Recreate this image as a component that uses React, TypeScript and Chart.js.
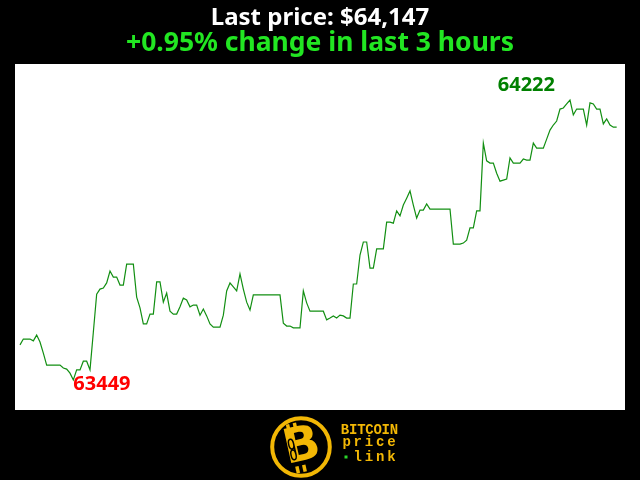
import React, { useEffect, useRef } from "react";
import { Chart, registerables } from "chart.js";

Chart.register(...registerables);

const TITLE = "Last price: $64,147";
const SUBTITLE = "+0.95% change in last 3 hours";
const LOGO_LINES = ["BITCOIN", "price", "link"];

// BTC price, one sample per minute over the last 3 hours
const prices: number[] = [
  63546, 63562, 63562, 63562, 63557, 63573, 63554, 63523, 63490, 63490,
  63490, 63490, 63490, 63482, 63479, 63468, 63449, 63477, 63477, 63501,
  63501, 63477, 63581, 63686, 63700, 63703, 63717, 63750, 63733, 63733,
  63711, 63711, 63769, 63769, 63769, 63678, 63648, 63604, 63604, 63631,
  63631, 63720, 63720, 63664, 63689, 63639, 63631, 63631, 63651, 63675,
  63670, 63651, 63656, 63656, 63628, 63645, 63626, 63604, 63595, 63595,
  63595, 63628, 63695, 63717, 63706, 63695, 63742, 63700, 63664, 63642,
  63684, 63684, 63684, 63684, 63684, 63684, 63684, 63684, 63684, 63606,
  63598, 63598, 63593, 63593, 63593, 63695, 63662, 63639, 63639, 63639,
  63639, 63639, 63615, 63620, 63626, 63620, 63628, 63626, 63620, 63620,
  63714, 63714, 63794, 63830, 63830, 63758, 63758, 63811, 63811, 63811,
  63885, 63885, 63882, 63916, 63902, 63932, 63951, 63971, 63932, 63896,
  63918, 63918, 63935, 63921, 63921, 63921, 63921, 63921, 63921, 63921,
  63824, 63824, 63824, 63827, 63835, 63869, 63869, 63916, 63916, 64103,
  64054, 64048, 64048, 64020, 63998, 64001, 64004, 64062, 64048, 64048,
  64048, 64059, 64056, 64056, 64103, 64089, 64089, 64089, 64114, 64139,
  64153, 64164, 64197, 64200, 64211, 64222, 64181, 64197, 64197, 64197,
  64153, 64214, 64211, 64197, 64197, 64156, 64170, 64153, 64147, 64147,
];

const minutes: number[] = prices.map((_, i) => i);

export default function App() {
  const ref = useRef<HTMLCanvasElement>(null);

  useEffect(() => {
    const canvas = ref.current;
    if (!canvas) return;
    const minVal = Math.min(...prices);
    const maxVal = Math.max(...prices);
    const minIdx = prices.indexOf(minVal);
    const maxIdx = prices.indexOf(maxVal);

    const decor = {
      id: "decor",
      beforeDraw(chart: any) {
        const { ctx, chartArea: a } = chart;
        ctx.save();
        ctx.fillStyle = "#000";
        ctx.fillRect(0, 0, chart.width, chart.height);
        ctx.fillStyle = "#fff";
        ctx.fillRect(a.left, a.top, a.right - a.left, a.bottom - a.top);
        ctx.restore();
      },
      afterDraw(chart: any) {
        const { ctx } = chart;
        const xs = chart.scales.x;
        const ys = chart.scales.y;
        ctx.save();
        // titles
        ctx.textAlign = "center";
        ctx.textBaseline = "alphabetic";
        ctx.fillStyle = "#ffffff";
        ctx.font = "bold 24px 'Noto Sans'";
        ctx.fillText(TITLE, 320, 25);
        ctx.fillStyle = "#22e622";
        ctx.font = "bold 26.5px 'Noto Sans'";
        ctx.fillText(SUBTITLE, 320, 50.5);

        // min / max labels
        ctx.font = "bold 20px 'Noto Sans'";
        ctx.fillStyle = "#ff0000";
        ctx.textAlign = "left";
        ctx.fillText(String(minVal), xs.getPixelForValue(minIdx), ys.getPixelForValue(minVal) + 10);
        ctx.fillStyle = "#008000";
        ctx.textAlign = "right";
        ctx.fillText(String(maxVal), xs.getPixelForValue(maxIdx) - 15, ys.getPixelForValue(maxVal) - 9);

        // logo
        const gold = "#f2b705";
        ctx.strokeStyle = gold;
        ctx.lineWidth = 4;
        ctx.beginPath();
        ctx.arc(301, 447, 28.8, 0, Math.PI * 2);
        ctx.stroke();
        ctx.save();
        ctx.translate(301, 447);
        ctx.rotate(-0.22);
        ctx.fillStyle = gold;
        ctx.fillRect(-10, -25, 3.5, 7);
        ctx.fillRect(-3, -25, 3.5, 7);
        ctx.fillRect(-10, 18, 3.5, 7);
        ctx.fillRect(-3, 18, 3.5, 7);
        ctx.font = "bold 48px 'DejaVu Sans'";
        ctx.textAlign = "center";
        ctx.textBaseline = "middle";
        ctx.fillText("B", 1, 1);
        ctx.strokeStyle = "#000";
        ctx.lineWidth = 1.5;
        ctx.beginPath();
        ctx.ellipse(-9, -5, 2.5, 5, 0, 0, Math.PI * 2);
        ctx.ellipse(-9, 6, 2.5, 5, 0, 0, Math.PI * 2);
        ctx.stroke();
        ctx.restore();

        ctx.fillStyle = gold;
        ctx.font = "bold 14px 'Liberation Mono'";
        ctx.textAlign = "center";
        ctx.textBaseline = "alphabetic";
        const drawSpaced = (t: string, x0: number, x1: number, y: number) => {
          const step = (x1 - x0) / t.length;
          for (let i = 0; i < t.length; i++) ctx.fillText(t[i], x0 + step * (i + 0.5), y);
        };
        drawSpaced(LOGO_LINES[0], 341, 398, 433.5);
        drawSpaced(LOGO_LINES[1], 341, 397, 445.5);
        drawSpaced(LOGO_LINES[2], 352, 397, 460.5);
        ctx.fillStyle = "#2bd62b";
        ctx.fillRect(344.5, 455.5, 3, 3);
        ctx.restore();
      },
    };

    const chart = new Chart(canvas, {
      type: "line",
      data: {
        datasets: [
          {
            data: prices.map((p, i) => ({ x: minutes[i], y: p })),
            borderColor: "#128f12",
            borderWidth: 1.2,
            pointRadius: 0,
            tension: 0,
            fill: false,
          },
        ],
      },
      options: {
        animation: false,
        responsive: false,
        layout: { padding: { left: 15, right: 15, top: 64, bottom: 70 } },
        plugins: {
          legend: { display: false },
          tooltip: { enabled: false },
          title: { display: false },
        },
        scales: {
          x: { type: "linear", min: -1.5, max: 181.5, display: false },
          y: { type: "linear", min: 63366.2, max: 64321.4, display: false },
        },
      },
      plugins: [decor],
    });
    return () => chart.destroy();
  }, []);

  return (
    <div style={{ position: "fixed", left: 0, top: 0, width: 640, height: 480, background: "#000" }}>
      <canvas ref={ref} width={640} height={480} style={{ display: "block", width: 640, height: 480 }} />
    </div>
  );
}
